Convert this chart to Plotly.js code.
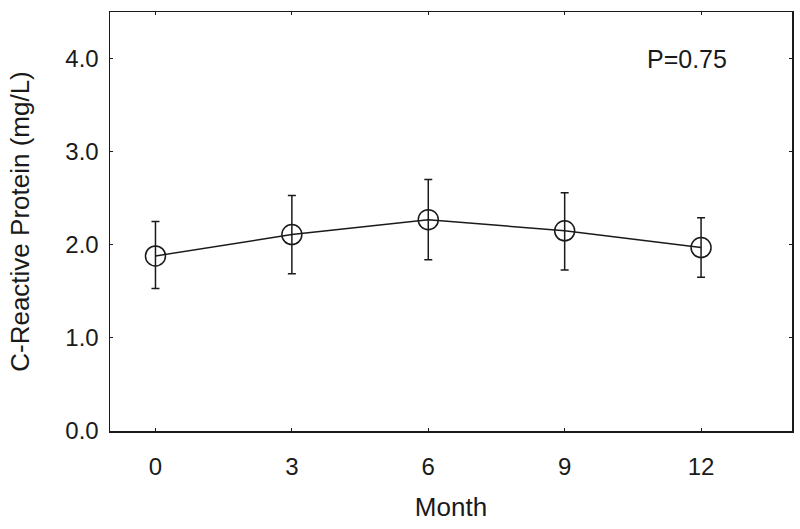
<!DOCTYPE html>
<html>
<head>
<meta charset="utf-8">
<script src="https://cdn.plot.ly/plotly-3.0.1.min.js"></script>
<style>html,body{margin:0;padding:0;background:#fff;}#chart{width:800px;height:529px;}</style>
</head>
<body>
<div id="chart"></div>
<script>
const months = [0, 3, 6, 9, 12];
const crp = [1.88, 2.11, 2.27, 2.15, 1.97];
const upper = [2.25, 2.53, 2.70, 2.56, 2.29];
const lower = [1.53, 1.69, 1.84, 1.73, 1.65];
const xTicks = [0, 3, 6, 9, 12];
const yTicks = [0, 1, 2, 3, 4];
const yTickLabels = ['0.0', '1.0', '2.0', '3.0', '4.0'];

const errPlus = crp.map((v, i) => upper[i] - v);
const errMinus = crp.map((v, i) => v - lower[i]);

const ink = '#1a1a1a';
const fam = 'Liberation Sans, Arial, sans-serif';

const trace = {
  x: months, y: crp, type: 'scatter', mode: 'lines+markers',
  line: {color: ink, width: 1.5},
  marker: {symbol: 'circle-open', size: 20, color: ink, line: {width: 1.5, color: ink}},
  error_y: {type: 'data', symmetric: false, array: errPlus, arrayminus: errMinus,
            color: ink, thickness: 1.5, width: 4},
  showlegend: false
};

const tickFont = {family: fam, size: 24, color: ink};
const titleFont = {family: fam, size: 26, color: ink};
const layout = {
  width: 800, height: 529,
  margin: {l: 110, r: 8, t: 12, b: 98},
  paper_bgcolor: '#fff', plot_bgcolor: '#fff',
  xaxis: {range: [-1, 14], tickvals: xTicks, ticktext: xTicks.map(String),
          showgrid: false, zeroline: false, showline: true, linecolor: ink, linewidth: 1.5,
          mirror: 'ticks', ticks: 'inside', ticklen: 3, tickcolor: ink, tickfont: tickFont,
          ticklabelstandoff: 14,
          title: {text: 'Month', font: titleFont, standoff: 18}},
  yaxis: {range: [0, 4.5], tickvals: yTicks, ticktext: yTickLabels,
          showgrid: false, zeroline: false, showline: true, linecolor: ink, linewidth: 1.5,
          mirror: 'ticks', ticks: 'inside', ticklen: 3, tickcolor: ink, tickfont: tickFont,
          ticklabelstandoff: 5,
          title: {text: 'C-Reactive Protein (mg/L)', font: titleFont, standoff: 28}},
  annotations: [{x: 11.68, y: 4.0, xref: 'x', yref: 'y', text: 'P=0.75', showarrow: false,
                 font: {family: fam, size: 25, color: ink}}]
};
Plotly.newPlot('chart', [trace], layout, {displayModeBar: false, staticPlot: true});
</script>
</body>
</html>
